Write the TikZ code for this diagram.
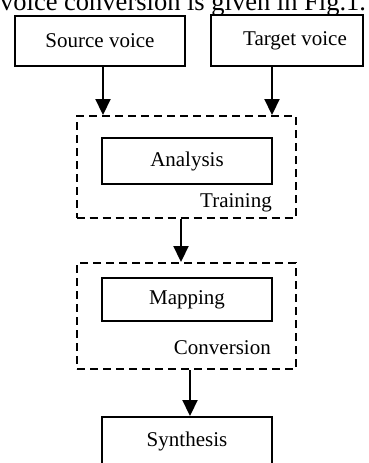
\documentclass[tikz,border=0pt]{standalone}
\usepackage{fontspec}
\setmainfont{Liberation Serif}
\usetikzlibrary{arrows.meta}

\begin{document}
\begin{tikzpicture}[x=1pt, y=-1pt,
    stagebox/.style={draw=black, line width=2pt, minimum width=170pt, minimum height=46pt, inner sep=0pt, font=\fontsize{21}{25}\selectfont},
    groupbox/.style={draw=black, line width=2pt, dash pattern=on 8pt off 5pt, minimum width=219pt, inner sep=0pt},
    grouplabel/.style={anchor=base east, inner sep=0pt, font=\fontsize{21}{25}\selectfont},
    flow/.style={-{Triangle[width=15pt,length=16pt]}, line width=2.2pt}
  ]
    \useasboundingbox (0,0) rectangle (368,463);
    \node[anchor=base west, inner sep=0pt, font=\fontsize{26.5}{30}\selectfont] (caption) at (0,10) {voice conversion is given in Fig.1.};

    \node[stagebox, minimum height=50pt] (source) at (100,41) {Source voice\hspace{16pt}};
    \node[stagebox, minimum width=152pt, minimum height=51pt] (target) at (287,40.5) {\hspace{16pt}Target voice};

    \node[groupbox, minimum height=102pt] (training) at (186,167) {};
    \node[stagebox] (analysis) at (187,161) {Analysis};
    \node[grouplabel] (traininglbl) at (272,207) {Training};

    \node[groupbox, minimum height=106pt] (conversion) at (186.5,316) {};
    \node[stagebox, minimum height=43pt] (mapping) at (187,299.5) {Mapping};
    \node[grouplabel] (conversionlbl) at (271,354) {Conversion};

    \node[stagebox, minimum height=48pt] (synthesis) at (187,441) {Synthesis};

    \draw[flow] ([xshift=3pt]source.south) -- ([xshift=3pt]source.south |- training.north);
    \draw[flow] ([xshift=-15pt]target.south) -- ([xshift=-15pt]target.south |- training.north);
    \draw[flow] ([xshift=-5pt]training.south) -- ([xshift=-5pt]training.south |- conversion.north);
    \draw[flow] ([xshift=3.5pt]conversion.south) -- ([xshift=3.5pt]conversion.south |- synthesis.north);
\end{tikzpicture}
\end{document}
